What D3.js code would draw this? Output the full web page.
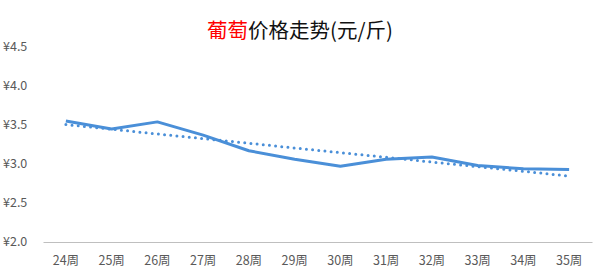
<!DOCTYPE html>
<html>
<head>
<meta charset="utf-8">
<script src="https://cdn.jsdelivr.net/npm/d3@7"></script>
<style>
  body { margin: 0; background: #fff; }
  text { font-family: "Noto Sans CJK SC", "Noto Sans", sans-serif; }
</style>
</head>
<body>
<div id="chart"></div>
<script>
// weekly grape prices (yuan / jin)
const weeks = ["24周", "25周", "26周", "27周", "28周", "29周", "30周", "31周", "32周", "33周", "34周", "35周"];
const prices = [3.55, 3.45, 3.54, 3.37, 3.17, 3.06, 2.97, 3.06, 3.09, 2.98, 2.94, 2.93];
const yTicks = [2.0, 2.5, 3.0, 3.5, 4.0, 4.5];

var width = 600, height = 279;
var margin = { top: 47, right: 8, bottom: 37, left: 43 };

var svg = d3.select("#chart")
    .append("svg")
    .attr("width", width)
    .attr("height", height);

// Scales
var x = d3.scaleBand()
    .domain(weeks)
    .range([margin.left, width - margin.right]);

var y = d3.scaleLinear()
    .domain([2.0, 4.5])
    .range([height - margin.bottom, margin.top]);

// Title
var title = svg.append("text")
    .attr("x", 300)
    .attr("y", 38)
    .attr("text-anchor", "middle")
    .style("font-size", "20.5px");
title.append("tspan").attr("fill", "#ff0000").text("葡萄");
title.append("tspan").attr("fill", "#111").text("价格走势(元/斤)");

// Y labels (no axis line)
svg.selectAll(".ylab")
    .data(yTicks)
    .enter().append("text")
    .attr("class", "ylab")
    .attr("x", 3)
    .attr("y", d => y(d))
    .attr("dy", "0.35em")
    .style("font-size", "12.5px")
    .attr("fill", "#595959")
    .text(d => "¥" + d.toFixed(1));

// X axis
var xAxis = svg.append("g")
    .attr("transform", "translate(0," + y(2.0) + ")")
    .call(d3.axisBottom(x).tickSize(0).tickPadding(14));
xAxis.select(".domain").attr("stroke", "#bfbfbf").attr("stroke-width", 1);
xAxis.selectAll("text")
    .style("font-size", "12.5px")
    .style("font-family", "'Noto Sans CJK SC', sans-serif")
    .attr("fill", "#595959");

var cx = d => x(d) + x.bandwidth() / 2;

// Price line
var line = d3.line()
    .x((d, i) => cx(weeks[i]))
    .y(d => y(d));

svg.append("path")
    .datum(prices)
    .attr("fill", "none")
    .attr("stroke", "#4a8fd8")
    .attr("stroke-width", 3)
    .attr("stroke-linejoin", "round")
    .attr("d", line);

// Linear trendline (least squares fit of the prices)
var n = prices.length;
var mx = d3.mean(prices, (d, i) => i);
var my = d3.mean(prices);
var sxy = d3.sum(prices, (d, i) => (i - mx) * (d - my));
var sxx = d3.sum(prices, (d, i) => (i - mx) * (i - mx));
var slope = sxy / sxx;
var trend = [0, n - 1].map(i => ({ i: i, v: my + slope * (i - mx) }));

svg.append("path")
    .datum(trend)
    .attr("fill", "none")
    .attr("stroke", "#4a8fd8")
    .attr("stroke-width", 3)
    .attr("stroke-linecap", "round")
    .attr("stroke-dasharray", "0,6.2")
    .attr("d", d3.line().x(d => cx(weeks[d.i])).y(d => y(d.v)));
</script>
</body>
</html>
